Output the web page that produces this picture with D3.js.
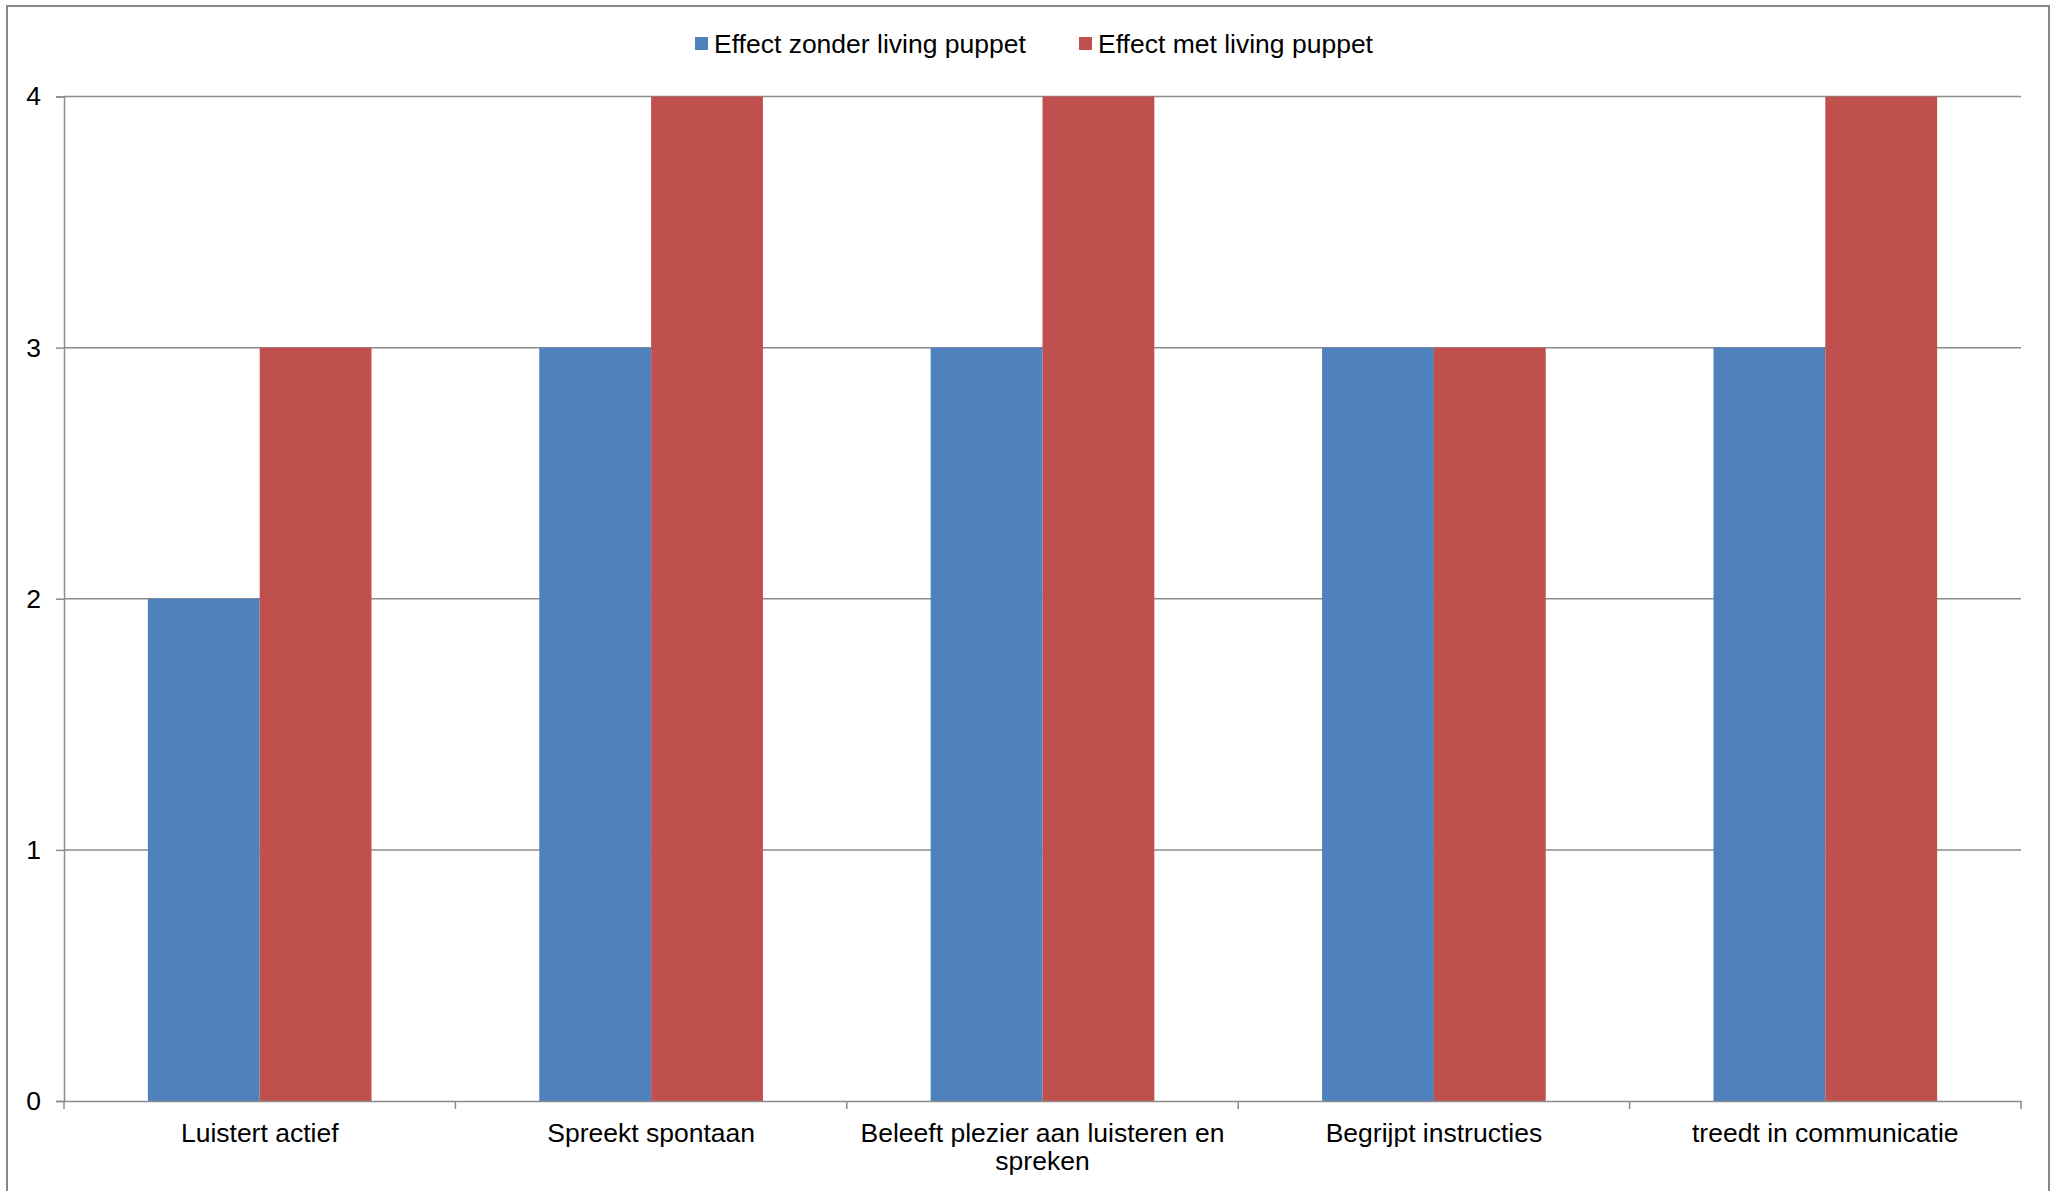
<!DOCTYPE html>
<html>
<head>
<meta charset="utf-8">
<script src="https://cdn.jsdelivr.net/npm/d3@7"></script>
<style>
  html, body { margin: 0; padding: 0; background: #fff; }
  svg { display: block; }
  text { font-family: "Liberation Sans", Arial, sans-serif; fill: #000; }
</style>
</head>
<body>
<svg id="chart" width="2058" height="1191"></svg>
<script>
const categories = ["Luistert actief", "Spreekt spontaan", "Beleeft plezier aan luisteren en spreken", "Begrijpt instructies", "treedt in communicatie"];
const seriesNames = ["Effect zonder living puppet", "Effect met living puppet"];
const zonderValues = [2, 3, 3, 3, 3];
const metValues = [3, 4, 4, 3, 4];
const yTicks = [0, 1, 2, 3, 4];
const colors = ["#4F81BD", "#C0504D"];

const svg = d3.select("#chart");
const margin = { left: 64, right: 2021, top: 96.5, bottom: 1101 };
const fontSize = 26.5;

// outer border
svg.append("rect")
  .attr("x", 7).attr("y", 6)
  .attr("width", 2042).attr("height", 1200)
  .attr("fill", "#fff").attr("stroke", "#888").attr("stroke-width", 2);

const x0 = d3.scaleBand().domain(categories).range([margin.left, margin.right]).paddingInner(0).paddingOuter(0);
const bw = x0.bandwidth();
const gapSide = bw * 0.75 / 3.5;
const x1 = d3.scaleBand().domain(seriesNames).range([gapSide, bw - gapSide]).padding(0);
const y = d3.scaleLinear().domain([0, 4]).range([margin.bottom, margin.top]);

// gridlines
svg.append("g").selectAll("line").data(yTicks.filter(d => d > 0)).join("line")
  .attr("x1", margin.left).attr("x2", margin.right)
  .attr("y1", d => y(d)).attr("y2", d => y(d))
  .attr("stroke", "#8c8c8c").attr("stroke-width", 1.5);

// bars
const data = categories.map((c, i) => ({ cat: c, vals: [zonderValues[i], metValues[i]] }));
const groups = svg.append("g").selectAll("g").data(data).join("g")
  .attr("transform", d => `translate(${x0(d.cat)},0)`);
groups.selectAll("rect").data(d => d.vals.map((v, j) => ({ s: seriesNames[j], v, j }))).join("rect")
  .attr("x", d => x1(d.s))
  .attr("width", x1.bandwidth())
  .attr("y", d => y(d.v))
  .attr("height", d => y(0) - y(d.v))
  .attr("fill", d => colors[d.j]);

// y axis
const yAxis = d3.axisLeft(y).tickValues(yTicks).tickFormat(d3.format("d")).tickSize(8).tickPadding(15);
const gy = svg.append("g").attr("transform", `translate(${margin.left},0)`).call(yAxis);
gy.select(".domain").attr("stroke", "#8c8c8c").attr("stroke-width", 1.5);
gy.selectAll(".tick line").attr("stroke", "#8c8c8c").attr("stroke-width", 1.5);
gy.selectAll(".tick text").attr("font-size", fontSize).attr("font-family", "Liberation Sans, Arial, sans-serif").attr("fill", "#000");

// x axis
const xAxis = d3.axisBottom(x0).tickSize(0).tickPadding(22);
const gx = svg.append("g").attr("transform", `translate(0,${margin.bottom})`).call(xAxis);
gx.select(".domain").attr("stroke", "#8c8c8c").attr("stroke-width", 1.5);
gx.selectAll(".tick text").attr("font-size", fontSize).attr("font-family", "Liberation Sans, Arial, sans-serif").attr("fill", "#000")
  .call(wrap, 385);

// category boundary ticks
const bounds = categories.map(c => x0(c)).concat([x0(categories[categories.length - 1]) + bw]);
svg.append("g").selectAll("line").data(bounds).join("line")
  .attr("x1", d => d).attr("x2", d => d)
  .attr("y1", margin.bottom).attr("y2", margin.bottom + 8)
  .attr("stroke", "#8c8c8c").attr("stroke-width", 1.5);

function wrap(texts, width) {
  texts.each(function () {
    const text = d3.select(this);
    const words = text.text().split(/\s+/);
    const yAttr = text.attr("y");
    const dy = parseFloat(text.attr("dy")) || 0;
    text.text(null);
    let line = [];
    let lineNo = 0;
    let tspan = text.append("tspan").attr("x", 0).attr("y", yAttr).attr("dy", dy + "em");
    words.forEach(w => {
      line.push(w);
      tspan.text(line.join(" "));
      if (tspan.node().getComputedTextLength() > width && line.length > 1) {
        line.pop();
        tspan.text(line.join(" "));
        line = [w];
        lineNo++;
        tspan = text.append("tspan").attr("x", 0).attr("y", yAttr).attr("dy", (dy + lineNo * 1.08) + "em").text(w);
      }
    });
  });
}

// legend
const legendItems = [
  { name: seriesNames[0], color: colors[0], x: 695 },
  { name: seriesNames[1], color: colors[1], x: 1079 }
];
const lg = svg.append("g");
legendItems.forEach(it => {
  lg.append("rect").attr("x", it.x).attr("y", 37).attr("width", 13).attr("height", 13).attr("fill", it.color);
  lg.append("text").attr("x", it.x + 19).attr("y", 53).attr("font-size", fontSize).text(it.name);
});
</script>
</body>
</html>
